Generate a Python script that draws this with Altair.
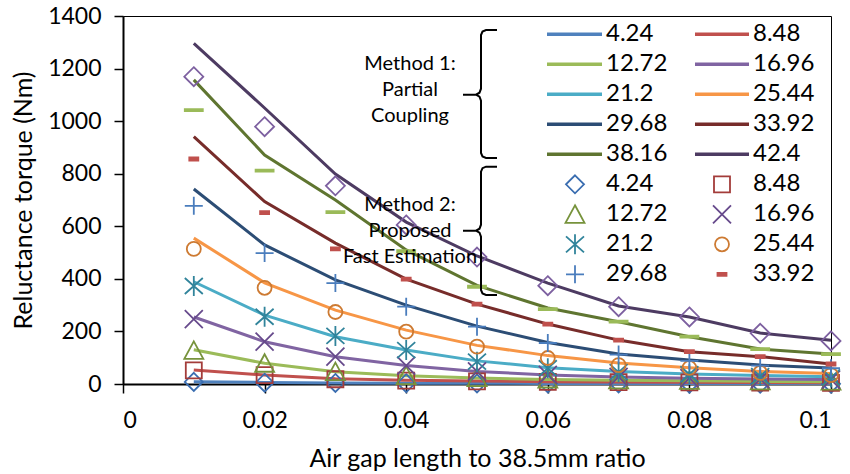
import altair as alt
import pandas as pd

# ---------------- data ----------------
x_vals = [0.01, 0.02, 0.03, 0.04, 0.05, 0.06, 0.07, 0.08, 0.09, 0.10]
series = ["4.24", "8.48", "12.72", "16.96", "21.2", "25.44", "29.68", "33.92", "38.16", "42.4"]

# Method 1: Partial Coupling (lines)
m1_424 = [9, 6, 4, 3, 3, 2, 2, 2, 2, 2]
m1_848 = [53, 34, 20, 14, 11, 9, 8, 7, 6, 5]
m1_1272 = [130, 79, 47, 31, 23, 17, 14, 12, 10, 9]
m1_1696 = [255, 161, 104, 70, 48, 34, 27, 22, 19, 17]
m1_212 = [389, 262, 180, 129, 88, 62, 48, 38, 32, 28]
m1_2544 = [555, 385, 281, 205, 147, 108, 80, 62, 48, 40]
m1_2968 = [742, 529, 396, 300, 220, 158, 114, 91, 72, 61]
m1_3392 = [941, 694, 536, 399, 304, 228, 167, 123, 104, 76]
m1_3816 = [1157, 871, 700, 510, 375, 289, 237, 180, 133, 114]
m1_424b = [1296, 1050, 799, 616, 487, 384, 297, 255, 194, 166]

# Method 2: Proposed Fast Estimation (markers)
m2_424 = [8, 5, 4, 3, 2, 2, 2, 1, 1, 1]
m2_848 = [52, 34, 18, 13, 10, 8, 7, 6, 5, 4]
m2_1272 = [128, 79, 47, 32, 24, 19, 16, 14, 12, 11]
m2_1696 = [247, 161, 104, 70, 48, 35, 27, 22, 19, 17]
m2_212 = [373, 256, 183, 129, 85, 60, 45, 37, 30, 25]
m2_2544 = [514, 366, 274, 199, 142, 99, 72, 61, 42, 34]
m2_2968 = [678, 498, 384, 294, 218, 156, 112, 88, 70, 60]
m2_3392 = [856, 652, 514, 399, 304, 228, 167, 123, 104, 76]
m2_3816 = [1042, 812, 654, 505, 370, 285, 237, 180, 133, 114]
m2_424b = [1169, 979, 754, 605, 483, 374, 294, 255, 193, 164]

method1 = [m1_424, m1_848, m1_1272, m1_1696, m1_212, m1_2544, m1_2968, m1_3392, m1_3816, m1_424b]
method2 = [m2_424, m2_848, m2_1272, m2_1696, m2_212, m2_2544, m2_2968, m2_3392, m2_3816, m2_424b]
legend_marker_series = series[:8]

x_ticks = [0, 0.02, 0.04, 0.06, 0.08, 0.1]
y_ticks = [0, 200, 400, 600, 800, 1000, 1200, 1400]

# ---------------- styles ----------------
FONT = "Lato"
line_colors = ["#4F81BD", "#C0504D", "#9BBB59", "#8064A2", "#4BACC6",
               "#F79646", "#2C4D75", "#772C2A", "#5F7530", "#4D3B62"]
marker_colors = ["#3A6DB0", "#A33C3A", "#77933C", "#674A8C", "#31849B",
                 "#CD7A32", "#4A7DBD", "#C0504D", "#9BBB59", "#7D60A0"]
marker_fills = ["transparent"] * 7 + ["#C0504D", "#9BBB59", "transparent"]
marker_paths = [
    "M0,-0.9L0.9,0L0,0.9L-0.9,0Z",                                   # diamond
    "M-0.8,-0.8L0.8,-0.8L0.8,0.8L-0.8,0.8Z",                         # square
    "M0,-0.9L0.95,0.85L-0.95,0.85Z",                                 # triangle
    "M-0.9,-0.9L0.9,0.9M-0.9,0.9L0.9,-0.9",                          # x
    "M-0.9,-0.8L0.9,0.8M-0.9,0.8L0.9,-0.8M0,-1L0,1",                 # asterisk
    "M0.7,0A0.7,0.7 0 1,1 -0.7,0A0.7,0.7 0 1,1 0.7,0Z",              # circle
    "M-0.9,0L0.9,0M0,-0.9L0,0.9",                                    # plus
    "M-0.45,-0.15L0.45,-0.15L0.45,0.15L-0.45,0.15Z",                 # short dash
    "M-0.9,-0.1L0.9,-0.1L0.9,0.1L-0.9,0.1Z",                         # long dash
    "M0,-0.95L0.95,0L0,0.95L-0.95,0Z",                               # diamond
]

# plot geometry (pixels) used for the in-plot legend and annotations
PL, PT, PW, PH = 123, 16, 708, 368
XMAX, YMAX = 0.1, 1400


def px2x(px):
    return (px - PL) / PW * XMAX


def py2y(py):
    return (PT + PH - py) / PH * YMAX


# ---------------- tables ----------------
rows = []
for s, vals in zip(series, method1):
    for xv, yv in zip(x_vals, vals):
        rows.append({"series": s, "x": xv, "y": yv})
df_lines = pd.DataFrame(rows)

rows = []
for s, vals in zip(series, method2):
    for xv, yv in zip(x_vals, vals):
        rows.append({"series": s, "x": xv, "y": yv})
df_pts = pd.DataFrame(rows)

# legend entries
leg_line_rows, leg_pt_rows, leg_txt_rows = [], [], []
for i, s in enumerate(series):
    r, c = i // 2, i % 2
    py = 34.3 + 30 * r
    x0, x1, lx = (547, 602, 606) if c == 0 else (695, 749, 753)
    leg_line_rows.append({"series": s, "x": px2x(x0), "x2": px2x(x1), "y": py2y(py)})
    leg_txt_rows.append({"label": s, "x": px2x(lx), "y": py2y(py)})
for i, s in enumerate(legend_marker_series):
    r, c = i // 2, i % 2
    py = 34.3 + 30 * (5 + r)
    sx, lx = (575, 606) if c == 0 else (722, 753)
    leg_pt_rows.append({"series": s, "x": px2x(sx), "y": py2y(py)})
    leg_txt_rows.append({"label": s, "x": px2x(lx), "y": py2y(py)})
df_leg_lines = pd.DataFrame(leg_line_rows)
df_leg_pts = pd.DataFrame(leg_pt_rows)
df_leg_txt = pd.DataFrame(leg_txt_rows)

annot_lines = ["Method 1:", "Partial", "Coupling", "Method 2:", "Proposed", "Fast Estimation"]
annot_py = [64, 90, 116, 205, 231, 257]
df_annot = pd.DataFrame({"text": annot_lines,
                         "x": [px2x(410)] * 6,
                         "y": [py2y(p) for p in annot_py]})


def brace(top, bottom, mid):
    xv, xh, xt = 481, 497, 463
    return [(xh, top), (486, top), (482.5, top + 1.5), (xv, top + 5),
            (xv, mid - 6), (479.5, mid - 2), (476, mid), (xt, mid),
            (476, mid), (479.5, mid + 2), (xv, mid + 6),
            (xv, bottom - 5), (482.5, bottom - 1.5), (486, bottom), (xh, bottom)]


rows = []
for b, (t, btm, m) in enumerate([(30, 158, 94.7), (166.7, 295, 230.7)]):
    for k, (px, py) in enumerate(brace(t, btm, m)):
        rows.append({"b": b, "i": k, "x": px2x(px), "y": py2y(py)})
df_brace = pd.DataFrame(rows)

# ---------------- chart ----------------
xscale = alt.Scale(domain=[0, XMAX], nice=False, zero=False)
yscale = alt.Scale(domain=[0, YMAX], nice=False, zero=False)
X = alt.X("x:Q", scale=xscale,
          axis=alt.Axis(values=x_ticks, format="~g", title="Air gap length to 38.5mm ratio",
                        labelPadding=16,
                        titleX=354, titleY=82, titleBaseline="alphabetic", titleAlign="center"))
Y = alt.Y("y:Q", scale=yscale,
          axis=alt.Axis(values=y_ticks, format="d", title="Reluctance torque (Nm)",
                        titleX=-100, titleY=184, titleBaseline="middle", titleAlign="center",
                        titleAngle=270))
Xp = alt.X("x:Q", scale=xscale)
Yp = alt.Y("y:Q", scale=yscale)

color_line = alt.Color("series:N", scale=alt.Scale(domain=series, range=line_colors), legend=None)
shape_pt = alt.Shape("series:N", scale=alt.Scale(domain=series, range=marker_paths), legend=None)
stroke_pt = alt.Stroke("series:N", scale=alt.Scale(domain=series, range=marker_colors), legend=None)
fill_pt = alt.Fill("series:N", scale=alt.Scale(domain=series, range=marker_fills), legend=None)

lines = alt.Chart(df_lines).mark_line(strokeWidth=3).encode(x=X, y=Y, color=color_line)

pts = alt.Chart(df_pts).mark_point(size=400, strokeWidth=1.8, opacity=1, filled=False).encode(
    x=Xp, y=Yp, shape=shape_pt, stroke=stroke_pt, fill=fill_pt)

leg_lines = alt.Chart(df_leg_lines).mark_rule(strokeWidth=3.5).encode(
    x=Xp, x2="x2:Q", y=Yp, color=color_line)

leg_pts = alt.Chart(df_leg_pts).mark_point(size=400, strokeWidth=1.8, opacity=1, filled=False).encode(
    x=Xp, y=Yp, shape=shape_pt, stroke=stroke_pt, fill=fill_pt)

leg_txt = alt.Chart(df_leg_txt).mark_text(align="left", baseline="middle", fontSize=24,
                                          font=FONT, color="black").encode(
    x=Xp, y=Yp, text="label:N")

annot = alt.Chart(df_annot).mark_text(align="center", baseline="middle", fontSize=20,
                                      font=FONT, color="black").encode(
    x=Xp, y=Yp, text="text:N")

braces = alt.Chart(df_brace).mark_line(color="black", strokeWidth=2).encode(
    x=Xp, y=Yp, detail="b:N", order="i:Q")

chart = alt.layer(lines, pts, leg_lines, leg_pts, leg_txt, braces, annot).properties(
    width=PW, height=PH, autosize="none",
    padding={"left": PL, "top": PT, "right": 850 - PL - PW, "bottom": 474 - PT - PH},
    background="white",
).configure_view(
    stroke="black", strokeWidth=1
).configure_axis(
    grid=False, domainColor="black", domainWidth=2, tickColor="black", tickWidth=1.5,
    tickSize=9, labelFont=FONT, labelFontSize=23, labelColor="black", labelPadding=13,
    titleFont=FONT, titleFontSize=25, titleFontWeight="normal", titleColor="black",
)

chart.save("out.html", embed_options={"renderer": "svg", "actions": False})
